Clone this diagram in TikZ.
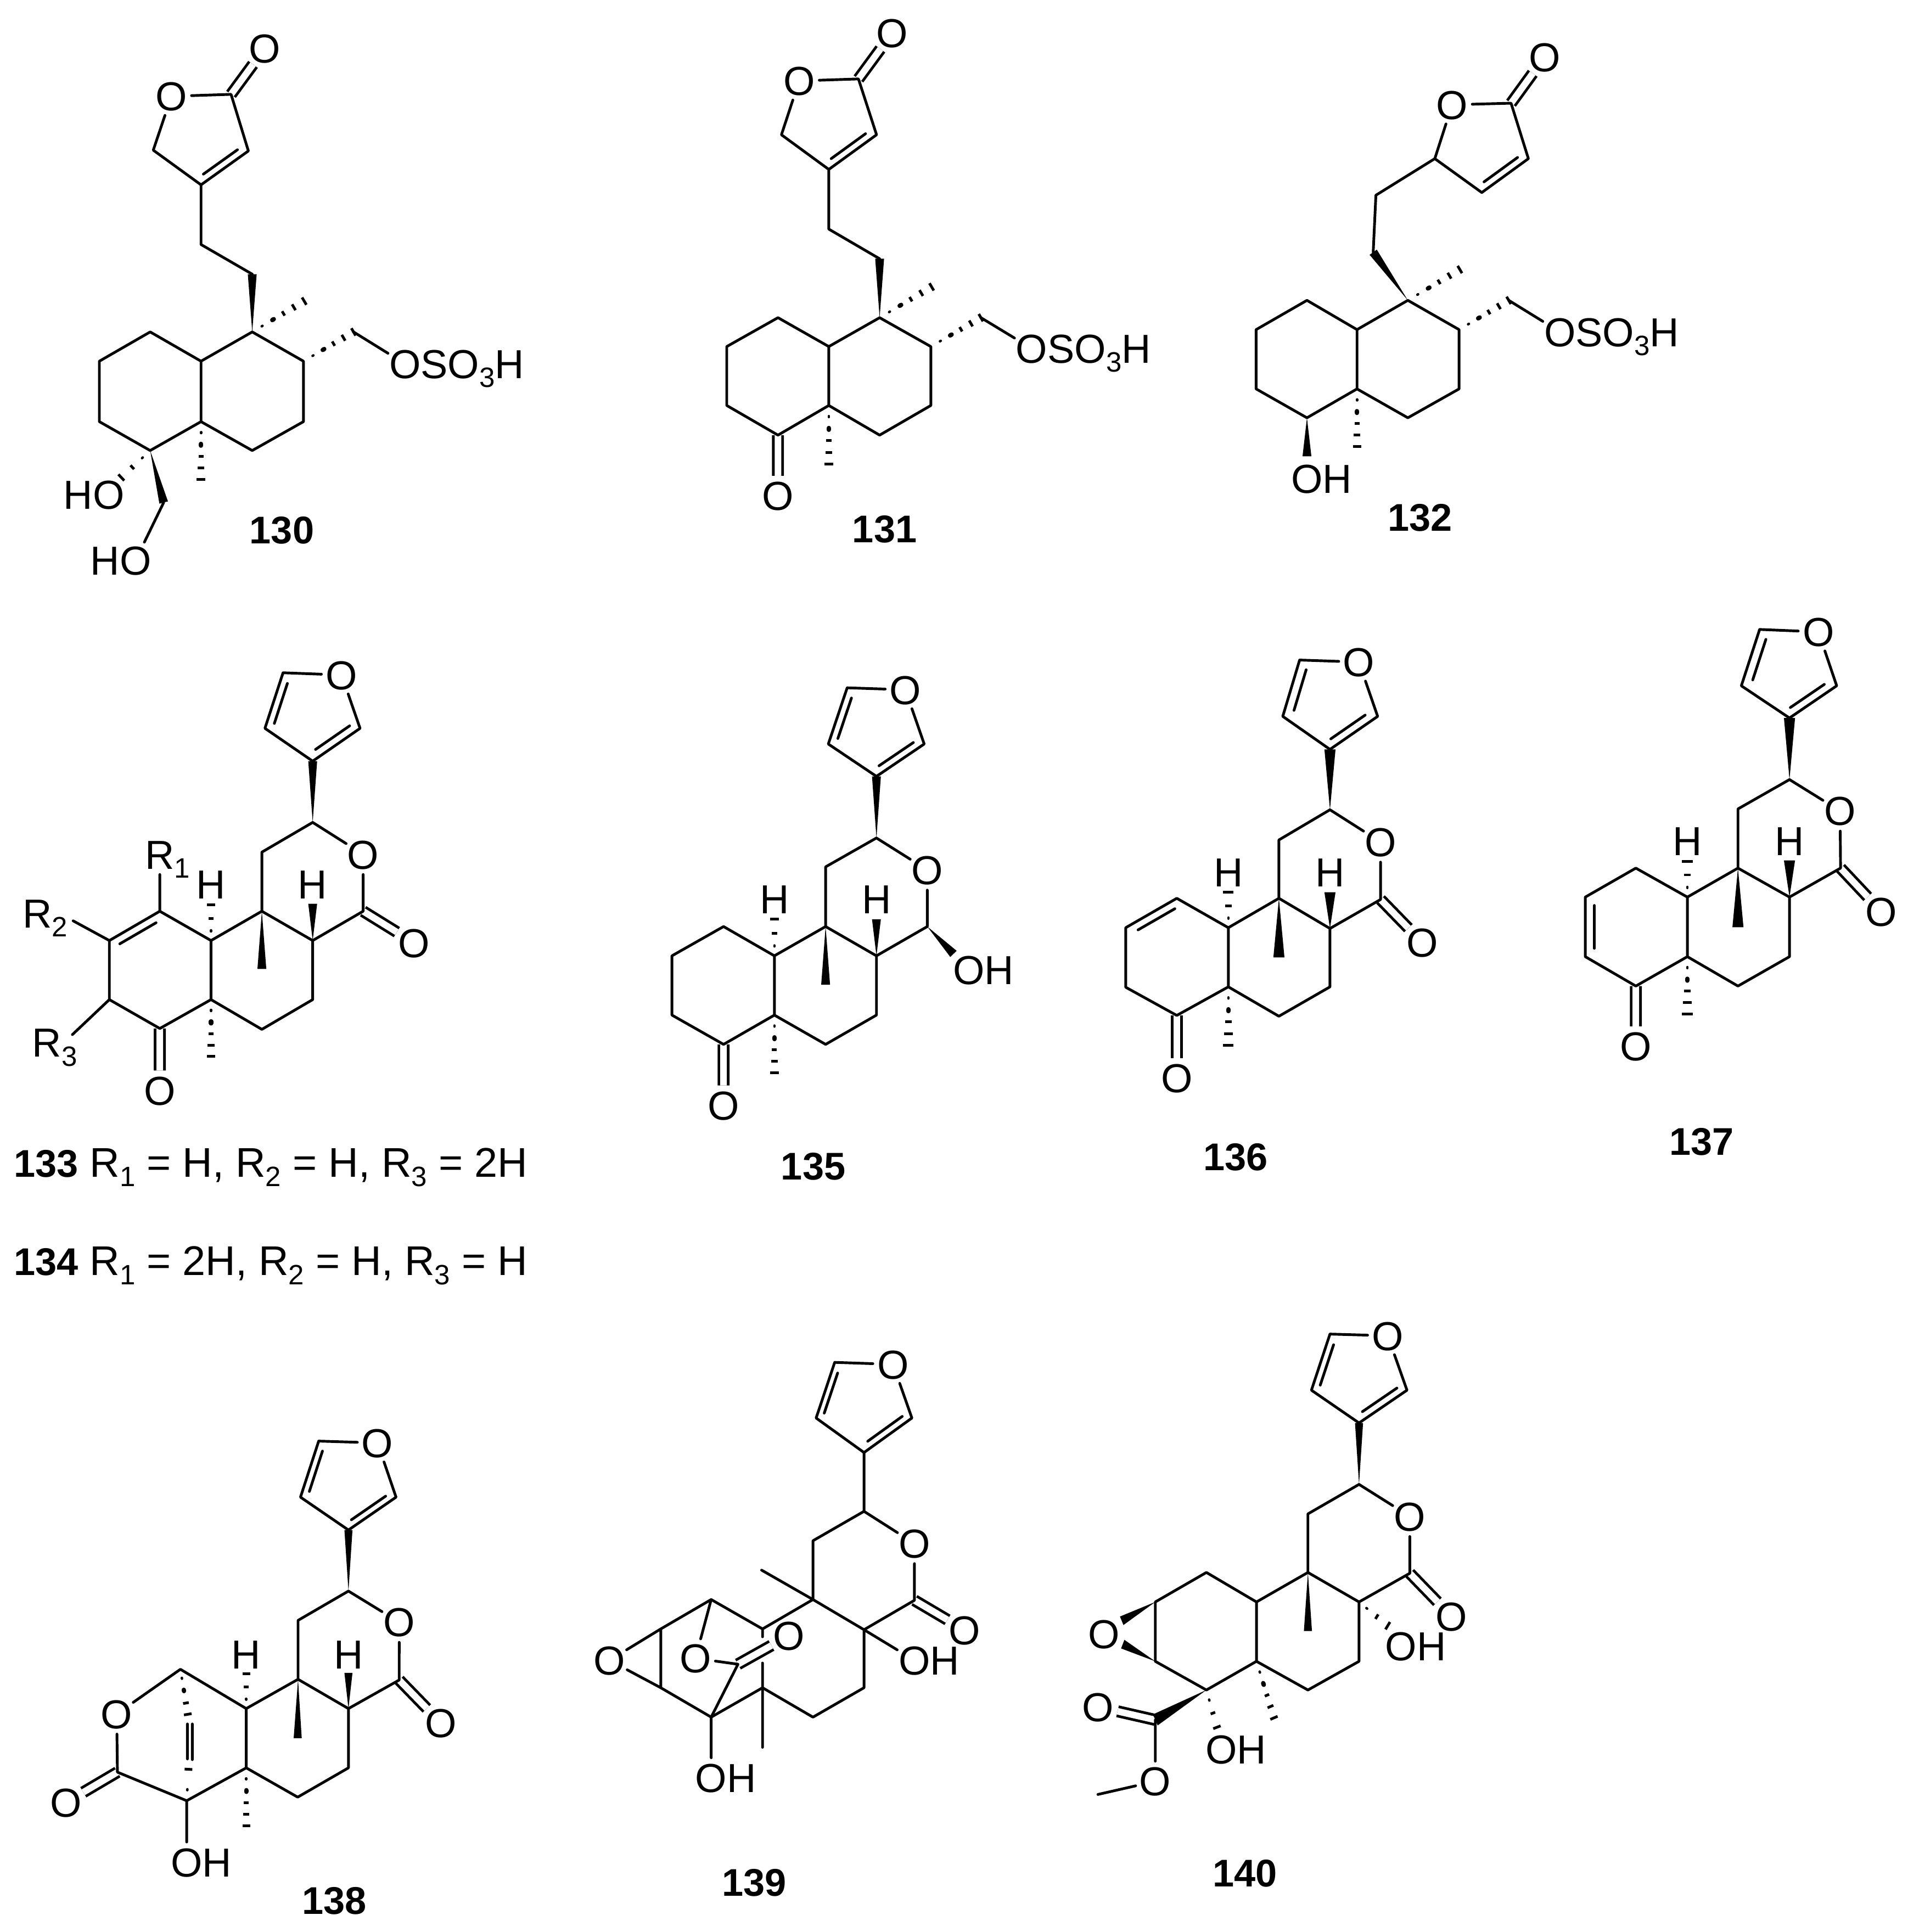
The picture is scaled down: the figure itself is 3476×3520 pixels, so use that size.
\documentclass[tikz,border=0pt]{standalone}
\usepackage{fontspec}
\setmainfont{Liberation Sans}
\usetikzlibrary{calc}
\newsavebox\lblbox
\newcommand{\subs}[1]{\raisebox{-0.22em}{\fontsize{14.5}{15}\selectfont #1}}
\newcommand{\lbl}[3]{\sbox\lblbox{#2}\raisebox{-0.358em}[0pt][0pt]{\makebox[0pt][r]{#1\kern.5\wd\lblbox}\makebox[0pt][c]{#2}\makebox[0pt][l]{\kern.5\wd\lblbox #3}}}
\newcommand{\pts}[1]{\foreach \n/\px/\py in {#1}{\coordinate (\n) at (\px,\py);}}
\newcommand{\ib}[2]{\draw[bond] ($(#1)!0.14!(#2)!0.19cm!90:(#2)$) -- ($(#2)!0.14!(#1)!0.19cm!-90:(#1)$);}
\newcommand{\db}[2]{\draw[dblb] (#1)--(#2);}
\newcommand{\wg}[3][0.115cm]{\fill[wedgef] (#2) -- ($(#3)!#1!90:(#2)$) -- ($(#3)!#1!-90:(#2)$) -- cycle;}
\newcommand{\hstripes}[3]{\foreach \hf in {#1}{\pgfmathsetmacro\hw{\hf*0.11}\draw[hashl] ($(#2)!\hf!(#3)+(#2)!\hw cm!90:(#3)-(#2)$) -- ($(#2)!\hf!(#3)+(#2)!\hw cm!-90:(#3)-(#2)$);}}
% small oval marks near the narrow end, elongated along the bond
\newcommand{\hdot}[5]{\draw[line cap=round,line width=#5] ($(#1)!#3!(#2)+(#1)!#4!(#2)-(#1)$) -- ($(#1)!#3!(#2)-(#1)!#4!(#2)+(#1)$);}
\newcommand{\hs}[2]{\hdot{#1}{#2}{0.19}{0.012cm}{1.3pt}\hdot{#1}{#2}{0.4}{0.022cm}{2.3pt}\hstripes{0.6,0.8,1}{#1}{#2}}
\newcommand{\hshort}[2]{\hdot{#1}{#2}{0.27}{0.012cm}{1.3pt}\hstripes{0.62,1}{#1}{#2}}
\newcommand{\furan}{\draw[bond] (a)--(O)--(d)--(c)--(b)--(a);\ib{a}{b}\ib{c}{d}}
\tikzset{
  bond/.style={draw=black,line width=1.4pt,line cap=round,line join=round},
  dblb/.style={draw=black,double=white,double distance=0.12cm,line width=1.4pt,line cap=butt},
  hashl/.style={draw=black,line width=1.4pt,line cap=butt},
  wedgef/.style={fill=black},
  atom/.style={circle,inner sep=0pt,minimum size=0.72cm,text=black,font=\fontsize{21}{21}\selectfont},
  numb/.style={inner sep=0pt,text=black,font=\fontsize{20}{20}\selectfont\bfseries},
  txtline/.style={anchor=base west,inner sep=0pt,text=black,font=\fontsize{21.5}{22}\selectfont},
  mol/.style n args={5}{name prefix=#1,shift={(#2,#3)},xscale=1/#4,yscale=1/#5}
}
\begin{document}
\begin{tikzpicture}[x=0.01cm,y=-0.01cm]
\useasboundingbox (0,0) rectangle (3476,3520);
% 130
\begin{scope}[mol={m130-}{0}{0}{1.4255}{1.4255}]
\pts{c1/600/245,c2/645/392,c3/522/480,c4/398/390,c6/522/635,c7/655/712,c8/655/862,c9/788/938,c10/788/1095,c11/655/1170,c12/522/1095,c13/522/938,c14/390/862,c15/258/938,c16/258/1095,c17/390/1170,c18/918/862,c19/425/1305,me1/790/782,me2/522/1245,hh/315/1240}
\node[atom] (O1) at (445,250) {\lbl{}{O}{}};
\node[atom] (O2) at (688,125) {\lbl{}{O}{}};
\node[atom] (O3) at (1052,945) {\lbl{}{O}{SO\subs{3}H}};
\node[atom] (O4) at (282,1285) {\lbl{H}{O}{}};
\node[atom] (O5) at (352,1455) {\lbl{H}{O}{}};
\node[numb] (lab) at (732,1378) {130};
\db{c1}{O2}
\draw[bond] (O1)--(c1)--(c2)--(c3)--(c4)--(O1) (c3)--(c6)--(c7);
\ib{c3}{c2}
\wg{c8}{c7}
\draw[bond] (c8)--(c9)--(c10)--(c11)--(c12)--(c13)--(c8) (c13)--(c14)--(c15)--(c16)--(c17)--(c12) (c18)--(O3) (c19)--(O5);
\wg{c17}{c19}
\hs{c8}{me1}\hs{c9}{c18}\hs{c12}{me2}\hshort{c17}{hh}
\end{scope}
% 131
\begin{scope}[mol={m131-}{1150}{0}{1.4255}{1.4255}]
\pts{c1/590/205,c2/637/350,c3/513/440,c4/390/350,c6/513/595,c7/645/672,c8/645/825,c9/778/900,c10/778/1053,c11/645/1130,c12/513/1053,c13/513/900,c14/381/825,c15/248/900,c16/248/1053,c17/381/1130,c18/908/825,me1/780/745,me2/513/1205}
\node[atom] (O1) at (436,210) {\lbl{}{O}{}};
\node[atom] (O2) at (678,85) {\lbl{}{O}{}};
\node[atom] (O3) at (1040,905) {\lbl{}{O}{SO\subs{3}H}};
\node[atom] (O4) at (381,1288) {\lbl{}{O}{}};
\node[numb] (lab) at (658,1375) {131};
\db{c1}{O2}\db{c17}{O4}
\draw[bond] (O1)--(c1)--(c2)--(c3)--(c4)--(O1) (c3)--(c6)--(c7);
\ib{c3}{c2}
\wg{c8}{c7}
\draw[bond] (c8)--(c9)--(c10)--(c11)--(c12)--(c13)--(c8) (c13)--(c14)--(c15)--(c16)--(c17)--(c12) (c18)--(O3);
\hs{c8}{me1}\hs{c9}{c18}\hs{c12}{me2}
\end{scope}
% 132
\begin{scope}[mol={m132-}{2200}{0}{1.4255}{1.4255}]
\pts{c1/788/268,c2/833/412,c3/712/500,c4/590/412,c6/437/507,c7/430/655,c8/520/780,c9/653/856,c10/653/1010,c11/520/1085,c12/388/1010,c13/388/856,c14/258/780,c15/126/856,c16/126/1010,c17/258/1085,c18/782/780,me1/655/700,me2/388/1160,w1/258/1185}
\node[atom] (O1) at (635,272) {\lbl{}{O}{}};
\node[atom] (O2) at (875,148) {\lbl{}{O}{}};
\node[atom] (O3) at (915,862) {\lbl{}{O}{SO\subs{3}H}};
\node[atom] (O4) at (258,1243) {\lbl{}{O}{H}};
\node[numb] (lab) at (552,1345) {132};
\db{c1}{O2}
\draw[bond] (O1)--(c1)--(c2)--(c3)--(c4)--(O1) (c4)--(c6)--(c7);
\ib{c3}{c2}
\wg{c8}{c7}
\draw[bond] (c8)--(c9)--(c10)--(c11)--(c12)--(c13)--(c8) (c13)--(c14)--(c15)--(c16)--(c17)--(c12) (c18)--(O3);
\wg{c17}{w1}
\hs{c8}{me1}\hs{c9}{c18}\hs{c12}{me2}
\end{scope}
% 133 / 134
\begin{scope}[mol={m133-}{0}{1150}{1.4255}{1.2544}]
\pts{a/735/95,b/688/222,c/812/297,d/935/222,e/812/437,g/680/505,h/680/640,i/943/640,j/812/707,k/812/842,l/680/910,m/548/842,n/548/707,o/415/908,p/284/842,q/284/707,r/415/640,w1/680/772,w2/812/623,w3/548/625,w4/548/972,e2/190/662,e3/188/922}
\node[atom] (O) at (887,100) {\lbl{}{O}{}};
\node[atom] (O1) at (943,510) {\lbl{}{O}{}};
\node[atom] (O2) at (1075,712) {\lbl{}{O}{}};
\node[atom] (O3) at (415,1050) {\lbl{}{O}{}};
\node[atom] (H1) at (812,578) {\lbl{}{H}{}};
\node[atom] (H2) at (548,578) {\lbl{}{H}{}};
\node[atom] (R1) at (415,510) {\lbl{}{R}{\subs{1}}};
\node[atom] (R2) at (97,645) {\lbl{}{R}{\subs{2}}};
\node[atom] (R3) at (122,940) {\lbl{}{R}{\subs{3}}};
\node[txtline] (t133) at (35,1248) {{\fontsize{20}{20}\selectfont\bfseries 133} R\subs{1} = H, R\subs{2} = H, R\subs{3} = 2H};
\node[txtline] (t134) at (35,1472) {{\fontsize{20}{20}\selectfont\bfseries 134} R\subs{1} = 2H, R\subs{2} = H, R\subs{3} = H};
\db{i}{O2}\db{o}{O3}
\furan
\wg{e}{c}
\draw[bond] (e)--(O1)--(i)--(j)--(h)--(g)--(e) (j)--(k)--(l)--(m)--(n)--(h) (m)--(o)--(p)--(q)--(r)--(n) (r)--(R1) (q)--(e2) (p)--(e3);
\ib{r}{q}
\wg{h}{w1}\wg{j}{w2}
\hshort{n}{w3}\hs{m}{w4}
\end{scope}
% 135
\begin{scope}[mol={m135-}{1100}{1150}{1.4255}{1.4255}]
\pts{a/632/147,b/583/293,c/708/377,d/832/293,e/708/537,g/576/612,h/576/767,i/840/767,j/708/843,k/708/997,l/576/1073,m/443/997,n/443/843,o/311/767,p/177/843,q/177/997,r/311/1073,w1/576/918,w2/708/748,w3/443/748,w4/443/1147,w5/908/838}
\node[atom] (O) at (783,152) {\lbl{}{O}{}};
\node[atom] (O1) at (840,620) {\lbl{}{O}{}};
\node[atom] (O3) at (311,1232) {\lbl{}{O}{}};
\node[atom] (O4) at (948,880) {\lbl{}{O}{H}};
\node[atom] (H1) at (708,695) {\lbl{}{H}{}};
\node[atom] (H2) at (443,695) {\lbl{}{H}{}};
\node[numb] (lab) at (544,1390) {135};
\db{r}{O3}
\furan
\wg{e}{c}
\draw[bond] (e)--(O1)--(i)--(j)--(h)--(g)--(e) (j)--(k)--(l)--(m)--(n)--(h) (n)--(o)--(p)--(q)--(r)--(m);
\wg{h}{w1}\wg{j}{w2}\wg{i}{w5}
\hshort{n}{w3}\hs{m}{w4}
\end{scope}
% 136
\begin{scope}[mol={m136-}{2100}{1050}{1.1395}{1.3635}]
\pts{a/305/208,b/270/348,c/368/430,d/467/348,e/368/580,g/262/655,h/262/800,i/473/803,j/368/875,k/368/1020,l/262/1093,m/157/1020,n/157/873,o/50/800,p/-56/873,q/-56/1021,r/50/1091,w1/262/947,w2/368/785,w3/157/785,w4/157/1165}
\node[atom] (O) at (428,213) {\lbl{}{O}{}};
\node[atom] (O1) at (473,660) {\lbl{}{O}{}};
\node[atom] (O2) at (560,910) {\lbl{}{O}{}};
\node[atom] (O3) at (50,1247) {\lbl{}{O}{}};
\node[atom] (H1) at (368,735) {\lbl{}{H}{}};
\node[atom] (H2) at (157,735) {\lbl{}{H}{}};
\node[numb] (lab) at (172,1443) {136};
\db{i}{O2}\db{r}{O3}
\furan
\wg{e}{c}
\draw[bond] (e)--(O1)--(i)--(j)--(h)--(g)--(e) (j)--(k)--(l)--(m)--(n)--(h) (n)--(o)--(p)--(q)--(r)--(m);
\ib{o}{p}
\wg{h}{w1}\wg{j}{w2}
\hshort{n}{w3}\hs{m}{w4}
\end{scope}
% 137
\begin{scope}[mol={m137-}{2100}{1050}{1.1395}{1.3635}]
\pts{a/1260/132,b/1222/272,c/1322/352,d/1420/272,e/1322/505,g/1215/578,h/1215/725,i/1428/725,j/1322/797,k/1322/945,l/1215/1018,m/1110/945,n/1110/797,o/1003/725,p/898/797,q/898/945,r/1003/1018,w1/1215/872,w2/1322/706,w3/1110/708,w4/1110/1088}
\node[atom] (O) at (1382,138) {\lbl{}{O}{}};
\node[atom] (O1) at (1427,583) {\lbl{}{O}{}};
\node[atom] (O2) at (1513,833) {\lbl{}{O}{}};
\node[atom] (O3) at (1003,1168) {\lbl{}{O}{}};
\node[atom] (H1) at (1322,657) {\lbl{}{H}{}};
\node[atom] (H2) at (1110,657) {\lbl{}{H}{}};
\node[numb] (lab) at (1140,1405) {137};
\db{i}{O2}\db{r}{O3}
\furan
\wg{e}{c}
\draw[bond] (e)--(O1)--(i)--(j)--(h)--(g)--(e) (j)--(k)--(l)--(m)--(n)--(h) (n)--(o)--(p)--(q)--(r)--(m);
\ib{p}{q}
\wg{h}{w1}\wg{j}{w2}
\hshort{n}{w3}\hs{m}{w4}
\end{scope}
% 138
\begin{scope}[mol={m138-}{50}{2500}{1.568}{1.537}]
\pts{a/832/193,b/780/350,c/917/442,d/1053/350,e/917/613,g/773/695,h/773/860,i/1062/862,j/917/942,k/917/1108,l/772/1190,m/625/1108,n/625/942,o/437/832,p/257/1120,q/455/1200,w1/772/1025,w2/917/842,w3/625/845,w4/625/1270,h1/458/958,h2/460/1112,t1/457/985,t2/457/1083,t3/471/985,t4/471/1085}
\node[atom] (O) at (1000,198) {\lbl{}{O}{}};
\node[atom] (O1) at (1062,700) {\lbl{}{O}{}};
\node[atom] (O2) at (1181,982) {\lbl{}{O}{}};
\node[atom] (O4) at (255,957) {\lbl{}{O}{}};
\node[atom] (O5) at (110,1205) {\lbl{}{O}{}};
\node[atom] (O6) at (455,1372) {\lbl{}{O}{H}};
\node[atom] (H1) at (917,790) {\lbl{}{H}{}};
\node[atom] (H2) at (625,790) {\lbl{}{H}{}};
\node[numb] (lab) at (877,1480) {138};
\db{i}{O2}\db{p}{O5}
\furan
\wg{e}{c}
\draw[bond] (e)--(O1)--(i)--(j)--(h)--(g)--(e) (j)--(k)--(l)--(m)--(n)--(h) (n)--(o)--(O4)--(p)--(q)--(m) (q)--(O6) (t1)--(t2) (t3)--(t4);
\wg{h}{w1}\wg{j}{w2}
\hshort{n}{w3}\hs{m}{w4}\hdot{o}{h1}{0.2}{0.012cm}{1.3pt}\hdot{o}{h1}{0.47}{0.02cm}{2.2pt}\hstripes{0.75,1}{o}{h1}
\hdot{q}{h2}{0.35}{0.012cm}{1.3pt}\hstripes{1}{q}{h2}
\end{scope}
% 139
\begin{scope}[mol={m139-}{1000}{2400}{1.742}{1.4}]
\pts{a/907/115,b/848/257,c/1000/345,d/1152/257,e/1000/495,g/838/570,h/838/720,i/1160/722,j/1000/797,k/1000/945,l/838/1020,m/678/945,n/678/795,t/515/720,u/355/795,v/355/945,w/515/1020,x/600/885,me1/675/645,me2/678/1097,g1/678/815,g2/678/882}
\node[atom] (O) at (1092,120) {\lbl{}{O}{}};
\node[atom] (O1) at (1160,577) {\lbl{}{O}{}};
\node[atom] (O2) at (1320,798) {\lbl{}{O}{}};
\node[atom] (O3) at (192,875) {\lbl{}{O}{}};
\node[atom] (O4) at (465,870) {\lbl{}{O}{}};
\node[atom] (O5) at (762,812) {\lbl{}{O}{}};
\node[atom] (O6) at (1160,875) {\lbl{}{O}{H}};
\node[atom] (O7) at (515,1175) {\lbl{}{O}{H}};
\node[numb] (lab) at (652,1443) {139};
\db{i}{O2}\db{x}{O5}
\furan
\draw[bond] (c)--(e)--(O1)--(i)--(j)--(h)--(g)--(e) (h)--(me1) (j)--(O6) (j)--(k)--(l)--(m)--(w)--(v)--(u)--(t)--(n)--(h) (n)--(g1) (g2)--(me2) (u)--(O3)--(v) (t)--(O4)--(x)--(w)--(O7);
\end{scope}
% 140
\begin{scope}[mol={m140-}{1900}{2350}{1.568}{1.34}]
\pts{a/820/108,b/767/245,c/903/325,d/1040/245,e/903/475,g/757/547,h/757/690,i/1048/692,j/903/762,k/903/907,l/757/977,m/610/907,n/610/762,o/467/690,p/321/762,q/321/907,r/467/977,s/321/1050,w1/757/833,w2/660/1045,w3/225/808,w4/228/865,h1/985/820,h2/497/1068,me/157/1232}
\node[atom] (O) at (985,112) {\lbl{}{O}{}};
\node[atom] (O1) at (1048,553) {\lbl{}{O}{}};
\node[atom] (O2) at (1167,797) {\lbl{}{O}{}};
\node[atom] (O3) at (175,840) {\lbl{}{O}{}};
\node[atom] (O4) at (157,1018) {\lbl{}{O}{}};
\node[atom] (O5) at (321,1200) {\lbl{}{O}{}};
\node[atom] (O6) at (1023,870) {\lbl{}{O}{H}};
\node[atom] (O7) at (510,1122) {\lbl{}{O}{H}};
\node[numb] (lab) at (577,1425) {140};
\db{i}{O2}\db{s}{O4}
\furan
\wg{e}{c}
\draw[bond] (e)--(O1)--(i)--(j)--(h)--(g)--(e) (j)--(k)--(l)--(m)--(n)--(h) (n)--(o)--(p)--(q)--(r)--(m) (s)--(O5)--(me);
\wg{h}{w1}\wg{p}{w3}\wg{q}{w4}\wg[0.15cm]{r}{s}
\hs{m}{w2}\hshort{j}{h1}\hshort{r}{h2}
\end{scope}
\end{tikzpicture}
\end{document}
